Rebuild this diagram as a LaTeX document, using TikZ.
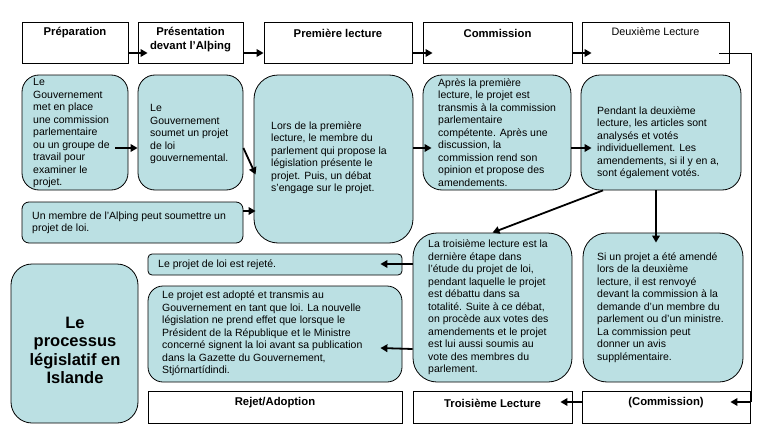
\documentclass[tikz,border=0pt]{standalone}
\usepackage{fontspec}
\setmainfont{Liberation Sans}
\usetikzlibrary{arrows.meta}
\definecolor{boxblue}{RGB}{187,224,227}
\begin{document}
\begin{tikzpicture}[x=1pt,y=-1pt,
 frame/.style={draw, line width=0.8pt, inner sep=0pt},
 rbox/.style={draw, fill=boxblue, line width=0.8pt, inner sep=0pt},
 body/.style={inner sep=0pt, align=left, anchor=west, font=\fontsize{10.5}{12.5}\selectfont},
 ttl/.style={inner sep=0pt, align=center, font=\bfseries\fontsize{11.3}{14}\selectfont},
 arr/.style={line width=1.8pt, -{Triangle[length=7pt,width=7.5pt]}},
 thinline/.style={line width=0.8pt}]
\useasboundingbox (0,0) rectangle (761,431);

% top row
\node[frame, minimum width=106pt, minimum height=41pt] (P1) at (75,42.5) {};
\node[frame, minimum width=105pt, minimum height=41pt] (P2) at (190.5,42.5) {};
\node[frame, minimum width=148pt, minimum height=41pt] (P3) at (338,42.5) {};
\node[frame, minimum width=149pt, minimum height=41pt] (P4) at (497.5,42.5) {};
\node[frame, minimum width=147pt, minimum height=41pt] (P5) at (655.5,42.5) {};
\node[ttl] (P1t) at (75,33) {Préparation};
\node[ttl] (P2t) at (190.5,40) {Présentation\\devant l'Alþing};
\node[ttl] (P3t) at (338,33) {Première lecture};
\node[ttl] (P4t) at (497.5,33) {Commission};
\node[ttl, font=\fontsize{10.8}{13}\selectfont] (P5t) at (655.5,32) {Deuxième Lecture};

% bottom row
\node[frame, minimum width=254pt, minimum height=32pt] (B1) at (275,407) {};
\node[frame, minimum width=159pt, minimum height=32pt] (B2) at (492.5,407) {};
\node[frame, minimum width=168pt, minimum height=32pt] (B3) at (666,407) {};
\node[ttl] (B1t) at (275,403) {Rejet/Adoption};
\node[ttl] (B2t) at (492.5,403) {Troisième Lecture};
\node[ttl] (B3t) at (666,403) {(Commission)};

% rounded boxes
\node[rbox, rounded corners=17pt, minimum width=106pt, minimum height=115pt] (A) at (75,132.5) {};
\node[rbox, rounded corners=17pt, minimum width=105pt, minimum height=115pt] (B) at (190.5,132.5) {};
\node[rbox, rounded corners=7pt, minimum width=221pt, minimum height=41pt] (C) at (132.5,222.5) {};
\node[rbox, rounded corners=24pt, minimum width=159pt, minimum height=168pt] (D) at (333.5,159) {};
\node[rbox, rounded corners=19pt, minimum width=148pt, minimum height=115pt] (E) at (497,132.5) {};
\node[rbox, rounded corners=19pt, minimum width=160pt, minimum height=115pt] (F) at (661,132.5) {};
\node[rbox, rounded corners=24pt, minimum width=159pt, minimum height=149pt] (G) at (492.5,307.5) {};
\node[rbox, rounded corners=24pt, minimum width=160pt, minimum height=149pt] (H) at (663,307.5) {};
\node[rbox, rounded corners=4pt, minimum width=254pt, minimum height=21pt] (I) at (275,264.5) {};
\node[rbox, rounded corners=15pt, minimum width=254pt, minimum height=96pt] (J) at (275,334) {};
\node[rbox, rounded corners=21pt, minimum width=127pt, minimum height=159pt] (K) at (74.5,343.5) {};

\node[body] (At) at (33,133) {Le\\Gouvernement\\met en place\\une commission\\parlementaire\\ou un groupe de\\travail pour\\examiner le\\projet.};
\node[body] (Bt) at (150,134) {Le\\Gouvernement\\soumet un projet\\de loi\\gouvernemental.};
\node[body] (Ct) at (32,223) {Un membre de l'Alþing peut soumettre un\\projet de loi.};
\node[body] (Dt) at (271,157.5) {Lors de la première\\lecture, le membre du\\parlement qui propose la\\législation présente le\\projet. Puis, un débat\\s'engage sur le projet.};
\node[body] (Et) at (438,132.5) {Après la première\\lecture, le projet est\\transmis à la commission\\parlementaire\\compétente. Après une\\discussion, la\\commission rend son\\opinion et propose des\\amendements.};
\node[body] (Ft) at (597,142.5) {Pendant la deuxième\\lecture, les articles sont\\analysés et votés\\individuellement. Les\\amendements, si il y en a,\\sont également votés.};
\node[body] (Gt) at (428,307.5) {La troisième lecture est la\\dernière étape dans\\l'étude du projet de loi,\\pendant laquelle le projet\\est débattu dans sa\\totalité. Suite à ce débat,\\on procède aux votes des\\amendements et le projet\\est lui aussi soumis au\\vote des membres du\\parlement.};
\node[body] (Ht) at (597,307.5) {Si un projet a été amendé\\lors de la deuxième\\lecture, il est renvoyé\\devant la commission à la\\demande d’un membre du\\parlement ou d’un ministre.\\La commission peut\\donner un avis\\supplémentaire.};
\node[body] (It) at (158,265) {Le projet de loi est rejeté.};
\node[body] (Jt) at (162,333.5) {Le projet est adopté et transmis au\\Gouvernement en tant que loi. La nouvelle\\législation ne prend effet que lorsque le\\Président de la République et le Ministre\\concerné signent la loi avant sa publication\\dans la Gazette du Gouvernement,\\Stjórnartídindi.};
\node[ttl, font=\bfseries\fontsize{16.5}{18.3}\selectfont] (Kt) at (75,350.5) {Le\\processus\\législatif en\\Islande};

% top arrows
\draw[arr] ([yshift=-10.5pt]P1.east) -- ([xshift=10pt,yshift=-10.5pt]P2.west);
\draw[arr] ([yshift=-10.5pt]P2.east) -- ([yshift=-10.5pt]P3.west);
\draw[arr] ([yshift=-10.5pt]P3.east) -- ([xshift=10pt,yshift=-10.5pt]P4.west);
\draw[arr] ([yshift=-10.5pt]P4.east) -- ([xshift=10pt,yshift=-10.5pt]P5.west);

% return line
\coordinate (corner) at (751,402);
\draw[thinline] ([xshift=-10pt,yshift=-10.5pt]P5.east) -| (corner);
\draw[arr] (corner) -- ([xshift=-20pt,yshift=5pt]B3.east);
\draw[arr] ([yshift=5pt]B3.west) -- ([xshift=-12pt,yshift=5pt]B2.east);

% middle arrows
\draw[arr] ([xshift=-13pt,yshift=-15.5pt]A.east) -- ([yshift=-15.5pt]B.west);
\draw[arr] ([yshift=-15.5pt]B.east) -- ([xshift=2pt,yshift=-15.5pt]D.west);
\draw[arr] ([yshift=11.5pt]C.east) -- ([xshift=2pt,yshift=-52pt]D.west);
\draw[arr] ([yshift=11pt]D.east) -- ([xshift=9pt,yshift=-15.5pt]E.west);
\draw[arr] ([yshift=-15.5pt]E.east) -- ([xshift=11pt,yshift=-15.5pt]F.west);
\draw[arr] ([xshift=-58pt]F.south) -- (G.north);
\draw[arr] ([xshift=-5pt]F.south) -- ([xshift=-7pt,yshift=-10pt]H.north);
\draw[arr] ([yshift=43.5pt]G.west) -- ([xshift=-22pt,yshift=0.5pt]I.east);
\draw[arr] ([yshift=-41.5pt]G.west) -- ([xshift=-22pt,yshift=-14pt]J.east);
\end{tikzpicture}
\end{document}
